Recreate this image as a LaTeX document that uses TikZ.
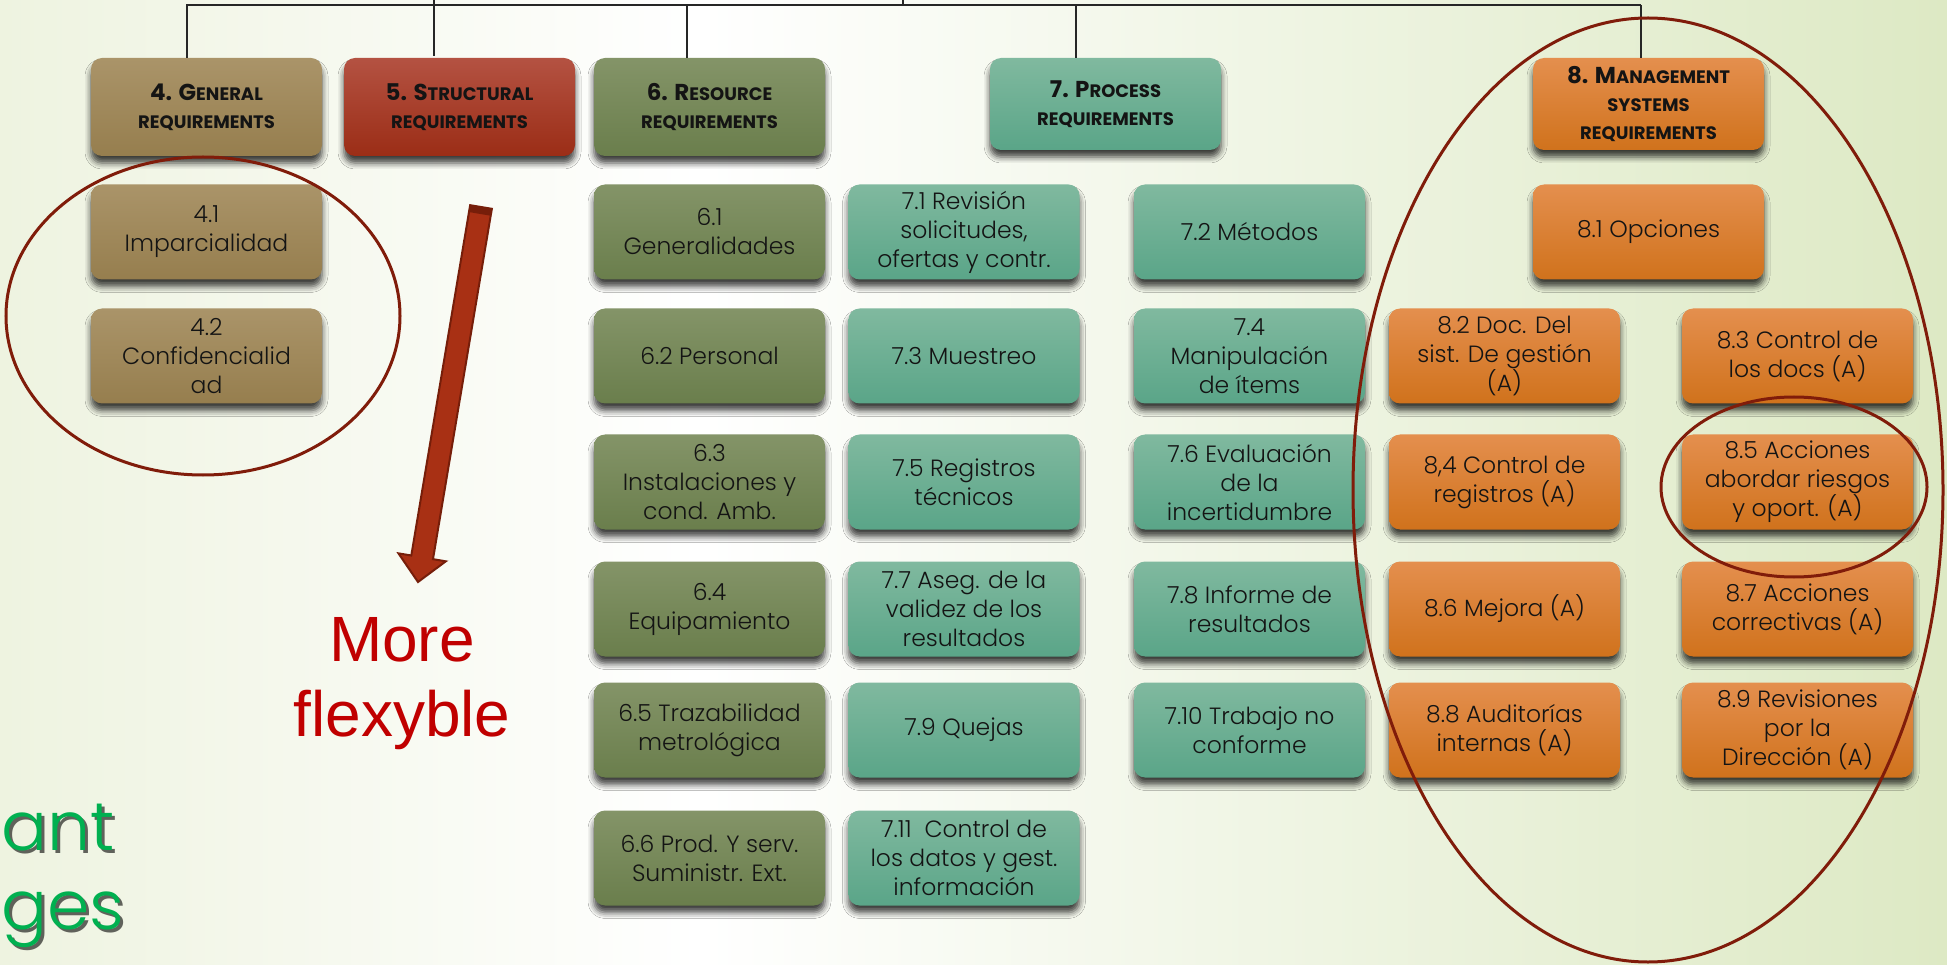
\documentclass[tikz,border=0pt]{standalone}
\usepackage{fontspec}
\setmainfont{Poppins}
\newfontfamily\lightf{Poppins Light}
\newfontfamily\arialf{Liberation Sans}
\usetikzlibrary{shadows.blur,calc}
\definecolor{bgL}{RGB}{238,243,224}
\definecolor{bgR}{RGB}{221,233,196}
\definecolor{brT}{RGB}{170,148,105}
\definecolor{brB}{RGB}{150,126,78}
\definecolor{rdT}{RGB}{180,82,66}
\definecolor{rdB}{RGB}{155,45,22}
\definecolor{olT}{RGB}{132,148,104}
\definecolor{olB}{RGB}{106,126,76}
\definecolor{tlT}{RGB}{128,185,159}
\definecolor{tlB}{RGB}{90,165,136}
\definecolor{orT}{RGB}{228,143,78}
\definecolor{orB}{RGB}{208,114,28}
\definecolor{ellc}{RGB}{128,28,10}
\definecolor{arrF}{RGB}{168,48,20}
\definecolor{arrD}{RGB}{118,30,10}
\definecolor{flexr}{RGB}{192,0,0}
\definecolor{grn}{RGB}{0,176,80}
\definecolor{txt}{RGB}{20,20,20}
\newcommand\hdbig{\fontsize{23}{28}\selectfont}
\newcommand\hdsmall{\fontsize{18}{28}\selectfont}
\tikzset{
  box/.style={rounded corners=11pt, minimum width=231pt, minimum height=95pt,
    align=center, inner sep=0pt, text=txt,
    font=\lightf\fontsize{23.5}{29}\selectfont,
    blur shadow={shadow xshift=0pt, shadow yshift=-7pt, shadow blur radius=6pt, shadow opacity=75}},
  hdr/.style={box, font=\normalfont\bfseries\hdsmall},
  brownbox/.style={top color=brT, bottom color=brB},
  redbox/.style={top color=rdT, bottom color=rdB},
  olivebox/.style={top color=olT, bottom color=olB},
  tealbox/.style={top color=tlT, bottom color=tlB},
  orangebox/.style={top color=orT, bottom color=orB},
  conn/.style={draw=black!85, line width=2pt},
  ring/.style={draw=ellc, line width=3pt},
  bigtxt/.style={font=\lightf\fontsize{68}{90}\selectfont, anchor=base west, inner sep=0pt}
}
\begin{document}
\begin{tikzpicture}[x=1pt,y=-1pt]
\useasboundingbox (0,0) rectangle (1947,965);
\clip (0,0) rectangle (1947,965);
% background
\shade[left color=bgL, right color=white] (0,0) rectangle (700,965);
\shade[left color=white, right color=bgR] (699,0) rectangle (1947,965);

% headers
\node[hdr, brownbox, minimum height=98pt] (h4) at (206.5,107) {{\hdbig 4. G}ENERAL\\REQUIREMENTS};
\node[hdr, redbox, minimum height=98pt] (h5) at (459.5,107) {{\hdbig 5. S}TRUCTURAL\\REQUIREMENTS};
\node[hdr, olivebox, minimum height=98pt] (h6) at (709.5,107) {{\hdbig 6. R}ESOURCE\\REQUIREMENTS};
\node[hdr, tealbox, minimum height=92pt] (h7) at (1105.5,104) {{\hdbig 7. P}ROCESS\\REQUIREMENTS};
\node[hdr, orangebox, minimum height=92pt] (h8) at (1648.5,104) {{\hdbig 8. M}ANAGEMENT\\SYSTEMS\\REQUIREMENTS};

% connectors
\coordinate (busL) at (186,5);
\coordinate (busR) at (1641,5);
\coordinate (busmid) at (903,5);
\coordinate (up) at (903,0);
\coordinate (d4) at (187,5);
\coordinate (d5) at (434,0);
\coordinate (d6) at (687,5);
\coordinate (d7) at (1076,5);
\coordinate (d8) at (1641,5);
\draw[conn] (busL) -- (busR);
\draw[conn] (up) -- (busmid);
\draw[conn] (d4) -- (d4 |- h4.north);
\draw[conn] ($(d5 |- h5.north)+(0,-2)$) -- (d5);
\draw[conn] (d6) -- (d6 |- h6.north);
\draw[conn] (d7) -- (d7 |- h7.north);
\draw[conn] (d8) -- (d8 |- h8.north);

% column 4
\node[box, brownbox] (n41) at (206.5,232) {4.1\\Imparcialidad};
\node[box, brownbox] (n42) at (206.5,356) {4.2\\Confidencialid\\ad};

% column 6
\node[box, olivebox] (n61) at (709.5,232) {6.1\\Generalidades};
\node[box, olivebox] (n62) at (709.5,356) {6.2 Personal};
\node[box, olivebox] (n63) at (709.5,482) {6.3\\Instalaciones y\\cond. Amb.};
\node[box, olivebox] (n64) at (709.5,609) {6.4\\Equipamiento};
\node[box, olivebox] (n65) at (709.5,730) {6.5 Trazabilidad\\metrológica};
\node[box, olivebox] (n66) at (709.5,858) {6.6 Prod. Y serv.\\Suministr. Ext.};

% column 7 odd
\node[box, tealbox] (n71) at (964,232) {7.1 Revisión\\solicitudes,\\ofertas y contr.};
\node[box, tealbox] (n73) at (964,356) {7.3 Muestreo};
\node[box, tealbox] (n75) at (964,482) {7.5 Registros\\técnicos};
\node[box, tealbox] (n77) at (964,609) {7.7 Aseg. de la\\validez de los\\resultados};
\node[box, tealbox] (n79) at (964,730) {7.9 Quejas};
\node[box, tealbox] (n711) at (964,858) {7.11~ Control de\\los datos y gest.\\información};

% column 7 even
\node[box, tealbox] (n72) at (1249.5,232) {7.2 Métodos};
\node[box, tealbox] (n74) at (1249.5,356) {7.4\\Manipulación\\de ítems};
\node[box, tealbox] (n76) at (1249.5,482) {7.6 Evaluación\\de la\\incertidumbre};
\node[box, tealbox] (n78) at (1249.5,609) {7.8 Informe de\\resultados};
\node[box, tealbox] (n710) at (1249.5,730) {7.10 Trabajo no\\conforme};

% column 8
\node[box, orangebox] (n81) at (1648.5,232) {8.1 Opciones};
\node[box, orangebox] (n82) at (1504.5,356) {8.2 Doc. Del\\sist. De gestión\\(A)};
\node[box, orangebox] (n83) at (1797.5,356) {8.3 Control de\\los docs (A)};
\node[box, orangebox] (n84) at (1504.5,482) {8,4 Control de\\registros (A)};
\node[box, orangebox] (n85) at (1797.5,482) {8.5 Acciones\\abordar riesgos\\y oport. (A)};
\node[box, orangebox] (n86) at (1504.5,609) {8.6 Mejora (A)};
\node[box, orangebox] (n87) at (1797.5,609) {8.7 Acciones\\correctivas (A)};
\node[box, orangebox] (n88) at (1504.5,730) {8.8 Auditorías\\internas (A)};
\node[box, orangebox] (n89) at (1797.5,730) {8.9 Revisiones\\por la\\Dirección (A)};

% ellipses
\draw[ring] (203,316) ellipse [x radius=197pt, y radius=159pt];
\draw[ring] (1648,490) ellipse [x radius=295pt, y radius=472pt];
\draw[ring] (1794,487) ellipse [x radius=133pt, y radius=90pt];

% big arrow
\fill[arrF, draw=arrD, line width=2pt, line join=miter]
  (470.15,205.18) -- (411.29,555.52) -- (398.47,553.36) -- (418,582)
  -- (445.81,561.32) -- (432.99,559.16) -- (491.85,208.82) -- cycle;
\fill[arrD] (470.15,205.18) -- (491.85,208.82) -- (490.69,215.72) -- (468.99,212.08) -- cycle;

% More flexyble
\node[font=\arialf\fontsize{64}{75}\selectfont, text=flexr, align=center, inner sep=0pt] (flex) at (402,684) {More\\flexyble};

% cut-off title
\node[bigtxt, text=black, opacity=0.6] (antS) at (4,853) {ant};
\node[bigtxt, text=grn] (ant) at (1,850) {ant};
\node[bigtxt, text=black, opacity=0.6] (gesS) at (4,932) {ges};
\node[bigtxt, text=grn] (ges) at (1,929) {ges};
\end{tikzpicture}
\end{document}
